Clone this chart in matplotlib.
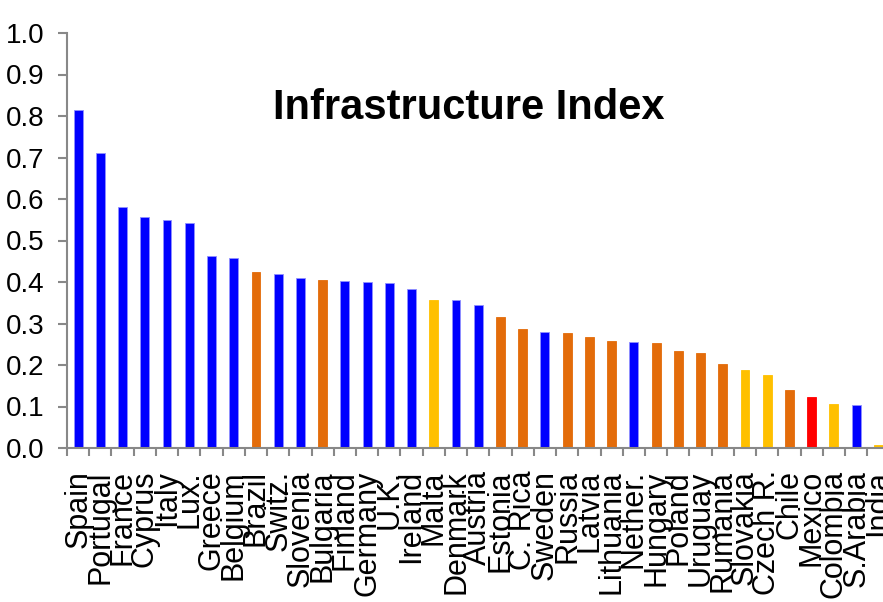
import matplotlib
matplotlib.use("Agg")
import matplotlib.pyplot as plt
import numpy as np

countries = ["Spain", "Portugal", "France", "Cyprus", "Italy", "Lux.", "Greece",
             "Belgium", "Brazil", "Switz.", "Slovenia", "Bulgaria", "Finland",
             "Germany", "U.K.", "Ireland", "Malta", "Denmark", "Austria", "Estonia",
             "C. Rica", "Sweden", "Russia", "Latvia", "Lithuania", "Nether.",
             "Hungary", "Poland", "Uruguay", "Rumania", "Slovakia", "Czech R.",
             "Chile", "Mexico", "Colombia", "S.Arabia", "India"]
index_values = [0.814, 0.712, 0.581, 0.557, 0.549, 0.542, 0.463, 0.459, 0.424,
                0.419, 0.409, 0.405, 0.402, 0.400, 0.398, 0.384, 0.357, 0.356,
                0.345, 0.316, 0.287, 0.279, 0.277, 0.267, 0.258, 0.255, 0.253,
                0.234, 0.229, 0.202, 0.188, 0.176, 0.140, 0.123, 0.106, 0.104,
                0.007]
# group: B = blue, O = orange, Y = yellow, R = red
groups = ["B", "B", "B", "B", "B", "B", "B", "B", "O", "B", "B", "O", "B", "B",
          "B", "B", "Y", "B", "B", "O", "O", "B", "O", "O", "O", "B", "O", "O",
          "O", "O", "Y", "Y", "O", "R", "Y", "B", "Y"]
y_ticks = [0.0, 0.1, 0.2, 0.3, 0.4, 0.5, 0.6, 0.7, 0.8, 0.9, 1.0]

palette = {"B": "#0000FF", "O": "#E36C0A", "Y": "#FFC000", "R": "#FF0000"}
edges = {"B": "#9090FF", "O": "#E36C0A", "Y": "#FFC000", "R": "#FF0000"}

plt.rcParams["font.family"] = ["Liberation Sans", "DejaVu Sans"]

fig = plt.figure(figsize=(8.83, 6.02), dpi=100)
ax = fig.add_axes([67 / 883, 1 - 448 / 602, 822.5 / 883, (448 - 33) / 602])

x = np.arange(len(countries))
ax.bar(x, index_values, width=0.4,
       color=[palette[g] for g in groups],
       edgecolor=[edges[g] for g in groups], linewidth=0.6, zorder=2)

ax.set_xlim(-0.5, len(countries) - 0.5)
ax.set_ylim(0, 1.0)
ax.set_yticks(y_ticks)
ax.set_yticklabels([f"{v:.1f}" for v in y_ticks], fontsize=20)

ax.set_xticks(x)
ax.set_xticklabels(countries, rotation=90, fontsize=22)
ax.set_xticks(np.arange(len(countries) + 1) - 0.5, minor=True)
ax.tick_params(axis="x", which="major", length=0, pad=16)
ax.tick_params(axis="x", which="minor", length=6, width=1.5, color="#888888",
               direction="out")
ax.tick_params(axis="y", length=6.5, width=1.5, color="#888888", pad=10)

for side in ("top", "right"):
    ax.spines[side].set_visible(False)
for side in ("left", "bottom"):
    ax.spines[side].set_color("#888888")
    ax.spines[side].set_linewidth(1.5)

fig.text(469 / 883, 1 - 108 / 602, "Infrastructure Index", fontsize=30,
         fontweight="bold", ha="center", va="center")

fig.savefig("out.png", dpi=100)
